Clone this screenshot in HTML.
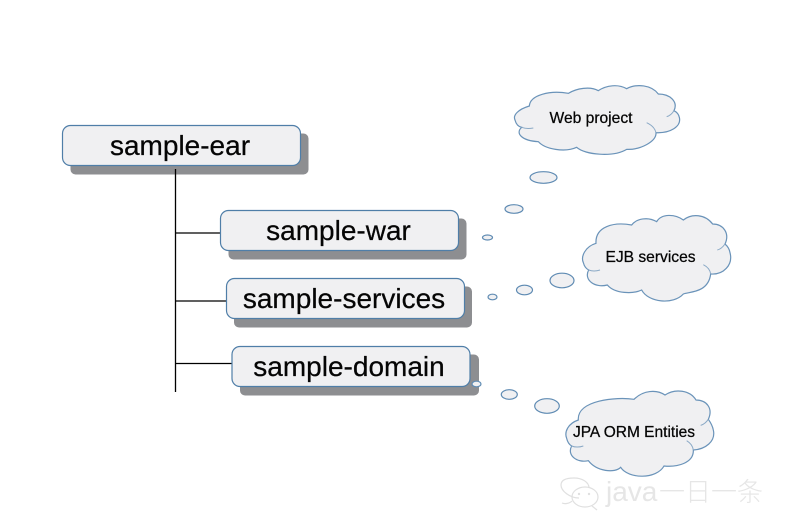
<!DOCTYPE html>
<html>
<head>
<meta charset="utf-8">
<style>
html,body{margin:0;padding:0;background:#fff;width:788px;height:532px;overflow:hidden}
svg{display:block}
text{font-family:"Liberation Sans","Noto Sans CJK SC",sans-serif;fill:#050505;stroke:#050505;stroke-width:.25}
.box{fill:#f0f0f2;stroke:#4f7ea8;stroke-width:1.2}
.sh{fill:#8d8e91}
.b{fill:#f0f0f2;stroke:#5f8bb3;stroke-width:1.2}
.c{fill:#f0f0f2;stroke:#6a93b9;stroke-width:1.200;vector-effect:non-scaling-stroke}
.i{fill:none;stroke:#8aa9c6;stroke-width:1;vector-effect:non-scaling-stroke}
</style>
</head>
<body>
<svg width="788" height="532" viewBox="0 0 788 532" xmlns="http://www.w3.org/2000/svg">
<rect width="788" height="532" fill="#fff"/>

<rect class="sh" x="70.500" y="133.500" width="238" height="41" rx="5"/>
<rect class="box" x="62.500" y="125.500" width="238" height="40" rx="8"/>
<path d="M175.500 169V392M175.500 233H220M175.500 301H226M175.500 363.500H232" stroke="#000" stroke-width="1.300" fill="none"/>
<text x="180" y="155" font-size="28" text-anchor="middle">sample-ear</text>

<rect class="sh" x="228.500" y="218.500" width="238" height="41" rx="5"/>
<rect class="box" x="220.500" y="210.500" width="238" height="40" rx="8"/>
<text x="338.500" y="240" font-size="28" text-anchor="middle">sample-war</text>

<rect class="sh" x="234" y="286.500" width="238" height="41" rx="5"/>
<rect class="box" x="226.500" y="278.500" width="238" height="40" rx="8"/>
<text x="344" y="308" font-size="28" text-anchor="middle">sample-services</text>

<rect class="sh" x="240" y="354.500" width="239" height="41" rx="5"/>
<rect class="box" x="232" y="346.500" width="238" height="40" rx="8"/>
<text x="349" y="376" font-size="28" text-anchor="middle">sample-domain</text>

<g transform="translate(470,70) scale(.33333)">
<path class="c" d="M178 108C145 118 128 135 135 150C138 162 145 170 155 172C135 190 155 212 205 215C225 238 285 248 320 232C345 255 430 262 470 238C510 240 560 215 558 188C600 190 635 170 628 142C626 132 618 125 612 122C625 95 600 72 565 72C545 45 500 40 470 56C445 42 410 45 385 62C360 48 320 55 295 70C240 60 180 75 178 108Z"/>
<path class="i" d="M155 172C165 176 178 176 190 174M558 188C555 175 545 165 530 158M612 122C606 132 598 138 590 140"/>
<path class="c" d="M378 520C345 530 332 560 340 578C343 590 350 597 356 600C340 630 375 655 412 645C435 672 490 672 515 660C535 698 610 705 640 672C655 665 715 670 722 612C760 615 790 585 780 548C778 535 772 528 765 522C780 490 760 462 728 462C705 432 665 430 640 450C615 432 575 430 560 455C535 440 500 445 485 465C430 455 375 470 378 520Z"/>
<path class="i" d="M356 600C366 604 378 604 390 600M722 612C720 598 712 590 700 584M765 522C758 532 750 538 742 540"/>
</g>
<g transform="translate(460,370) scale(.33333)">
<path class="c" d="M355 150C325 160 312 185 320 205C323 218 330 225 335 228C320 255 350 280 385 272C410 305 465 310 482 292C505 328 590 328 612 288C650 292 702 280 700 240C735 238 768 215 760 180C757 165 750 155 745 148C760 115 740 90 708 90C690 60 645 55 615 75C590 58 550 60 522 88C470 80 350 90 355 150Z"/>
<path class="i" d="M335 228C345 232 358 232 370 228M700 240C698 226 690 218 680 212M745 148C738 158 730 164 722 166"/>
</g>

<text x="591" y="123" font-size="15.600" text-anchor="middle">Web project</text>
<text x="650.500" y="262" font-size="15.600" text-anchor="middle">EJB services</text>
<text x="634" y="437" font-size="15.500" text-anchor="middle">JPA ORM Entities</text>

<ellipse class="b" cx="543.500" cy="177.500" rx="13.500" ry="5.800"/>
<ellipse class="b" cx="514" cy="209" rx="9" ry="4.300"/>
<ellipse class="b" cx="487.500" cy="237.500" rx="5" ry="2.500"/>
<ellipse class="b" cx="562" cy="280.500" rx="12" ry="7.300"/>
<ellipse class="b" cx="524.500" cy="290" rx="8" ry="4.800"/>
<ellipse class="b" cx="492.500" cy="297" rx="4.500" ry="2.800"/>
<ellipse class="b" cx="547" cy="406" rx="12.300" ry="7.300"/>
<ellipse class="b" cx="509.300" cy="394.500" rx="8" ry="4.800"/>
<ellipse class="b" cx="476.500" cy="384" rx="4.500" ry="2.800"/>

<g fill="none" stroke="#e0e0e0" stroke-width="1.200">
<path d="M579 498C570 498 561 491 561 485C561 479 568 478 574 478C582 478 589 482 589 488"/>
<path d="M572 501C569 504 564 504 562 503"/>
<ellipse cx="585" cy="497" rx="13" ry="10"/>
<path d="M592 506L597 510"/>
</g>
<g fill="#e0e0e0"><circle cx="579" cy="494" r="1.200"/><circle cx="589" cy="494" r="1.200"/></g>
<text x="606" y="501" font-size="28" style="fill:#e6e6e6;stroke:none">java</text>
<text x="659" y="501" font-size="26" style="fill:#e6e6e6;stroke:none;font-family:'Noto Sans CJK SC',sans-serif;font-weight:300">一日一条</text>
</svg>
</body>
</html>
